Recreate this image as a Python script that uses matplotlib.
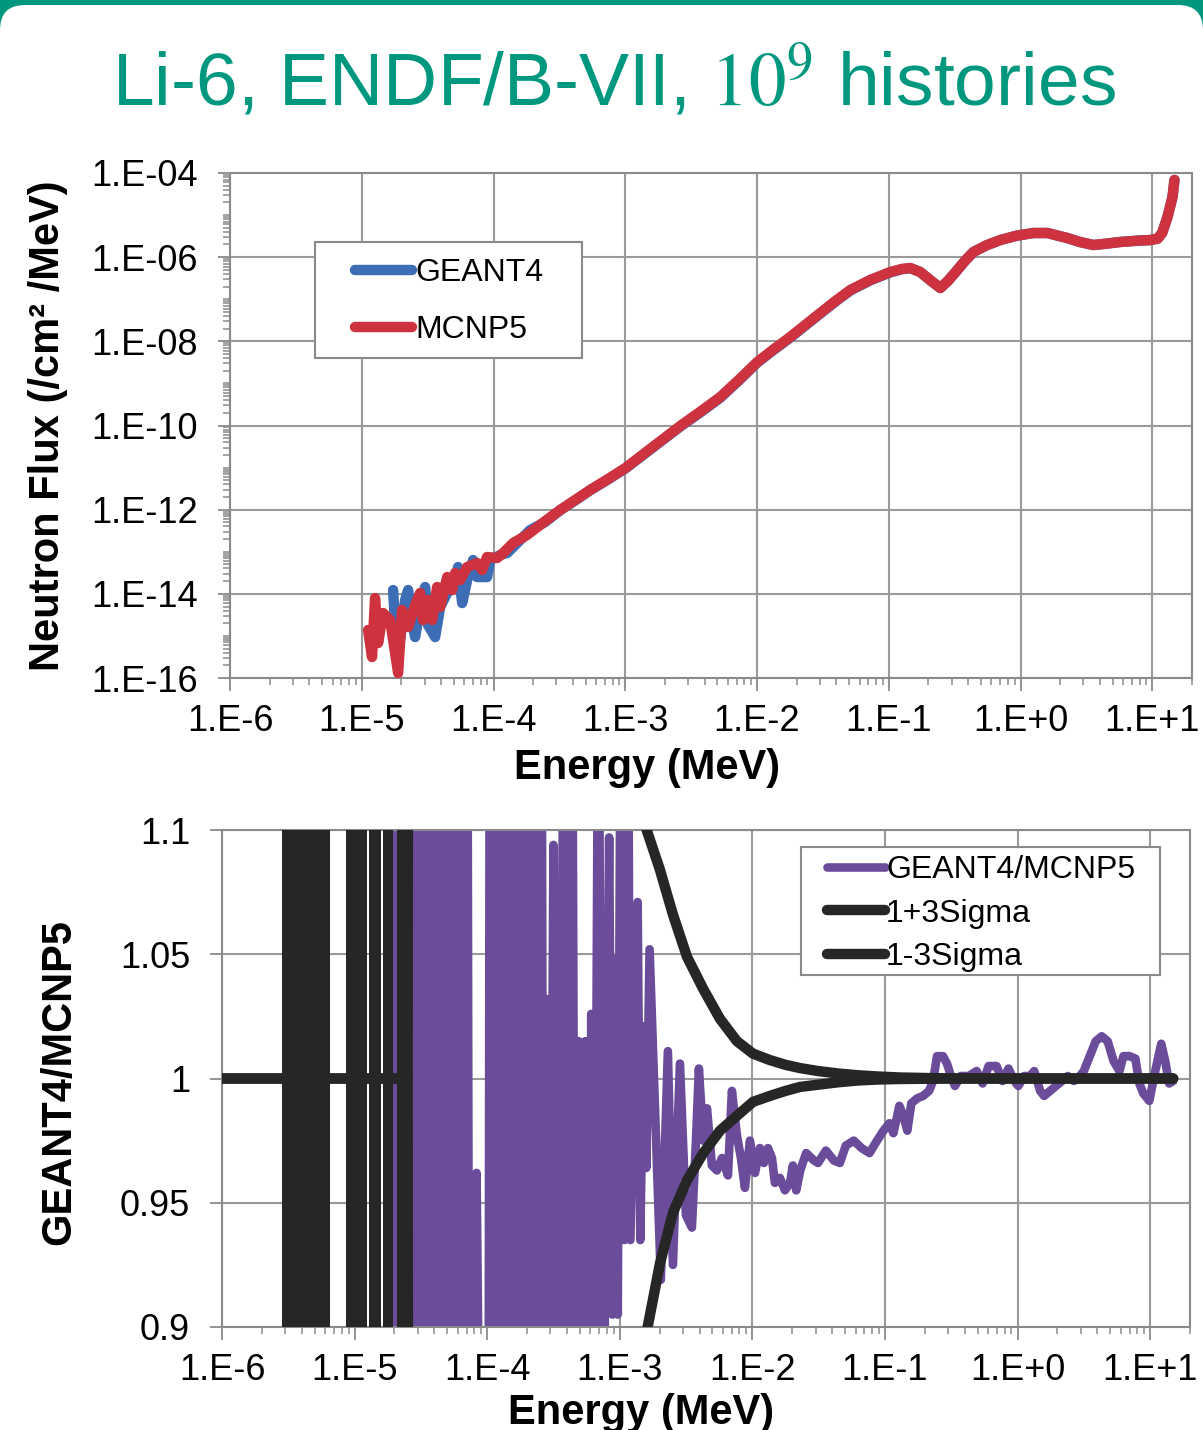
import matplotlib.pyplot as plt
import numpy as np
from matplotlib.patches import Rectangle, FancyBboxPatch
from matplotlib.ticker import FixedLocator, LogLocator, FuncFormatter, NullFormatter

plt.rcParams['font.family'] = ['Liberation Sans', 'DejaVu Sans']
plt.rcParams['mathtext.fontset'] = 'stix'

# ---------------- data ----------------
# neutron flux spectrum: (log10 E [MeV], log10 flux [/cm2/MeV])
mcnp_flux = [
    (-4.952, -14.860), (-4.922, -15.502), (-4.899, -14.100), (-4.876, -15.169),
    (-4.838, -14.456), (-4.785, -14.623), (-4.724, -15.882), (-4.694, -14.385),
    (-4.648, -14.789), (-4.595, -14.266), (-4.557, -13.981), (-4.535, -14.623),
    (-4.497, -14.147), (-4.466, -14.623), (-4.428, -13.838), (-4.405, -14.314),
    (-4.352, -13.601), (-4.314, -13.910), (-4.292, -13.506), (-4.254, -13.672),
    (-4.200, -13.363), (-4.125, -13.268), (-4.087, -13.434), (-4.049, -13.125),
    (-3.973, -13.149), (-3.927, -13.030), (-3.851, -12.793), (-3.745, -12.600),
    (-3.620, -12.300), (-3.494, -12.008), (-3.380, -11.770), (-3.267, -11.533),
    (-3.130, -11.270), (-2.999, -11.010), (-2.800, -10.530), (-2.583, -10.012),
    (-2.430, -9.670), (-2.279, -9.323), (-2.140, -8.920), (-1.998, -8.491),
    (-1.870, -8.180), (-1.748, -7.897), (-1.630, -7.600), (-1.520, -7.327),
    (-1.400, -7.030), (-1.292, -6.780), (-1.140, -6.540), (-0.989, -6.353),
    (-0.900, -6.280), (-0.837, -6.258), (-0.761, -6.353), (-0.680, -6.560),
    (-0.609, -6.733), (-0.550, -6.560), (-0.480, -6.305), (-0.420, -6.080),
    (-0.358, -5.877), (-0.260, -5.720), (-0.153, -5.592), (-0.030, -5.490),
    (0.097, -5.426), (0.203, -5.426), (0.355, -5.545), (0.450, -5.640),
    (0.553, -5.711), (0.650, -5.680), (0.758, -5.640), (0.880, -5.610),
    (0.986, -5.592), (1.040, -5.560), (1.075, -5.420), (1.115, -5.046),
    (1.153, -4.570), (1.168, -4.166),
]
geant_flux = [
    (-4.762, -13.910), (-4.747, -14.741), (-4.709, -15.098), (-4.671, -14.147),
    (-4.648, -13.910), (-4.618, -14.623), (-4.595, -15.027), (-4.557, -14.314),
    (-4.519, -13.838), (-4.497, -14.741), (-4.443, -15.027), (-4.405, -14.314),
    (-4.352, -13.981), (-4.292, -13.791), (-4.269, -13.363), (-4.238, -14.219),
    (-4.200, -13.672), (-4.155, -13.197), (-4.125, -13.601), (-4.049, -13.601),
    (-4.026, -13.197), (-3.950, -13.078), (-3.897, -13.030), (-3.798, -12.721),
    (-3.722, -12.484), (-3.608, -12.294), (-3.494, -12.012), (-3.380, -11.780),
    (-3.267, -11.540), (-3.130, -11.280), (-2.999, -11.020), (-2.800, -10.545),
    (-2.583, -10.025), (-2.430, -9.688), (-2.279, -9.340), (-2.140, -8.937),
    (-1.998, -8.505), (-1.870, -8.195), (-1.748, -7.912), (-1.630, -7.615),
    (-1.520, -7.340), (-1.400, -7.043), (-1.292, -6.792), (-1.140, -6.550),
    (-0.989, -6.362), (-0.900, -6.286), (-0.837, -6.262), (-0.761, -6.356),
    (-0.680, -6.562), (-0.609, -6.734), (-0.550, -6.560), (-0.480, -6.305),
    (-0.420, -6.080), (-0.358, -5.877), (-0.260, -5.720), (-0.153, -5.592),
    (-0.030, -5.490), (0.097, -5.426), (0.203, -5.425), (0.355, -5.545),
    (0.450, -5.640), (0.553, -5.711), (0.650, -5.680), (0.758, -5.637),
    (0.880, -5.610), (0.986, -5.593), (1.040, -5.560), (1.075, -5.420),
    (1.115, -5.046), (1.153, -4.570), (1.168, -4.166),
]

# GEANT4/MCNP5 ratio: (log10 E [MeV], ratio)
ratio_noisy = [
    (-6.00, 1.0), (-4.72, 1.0),
    (-4.70, 1.2), (-4.675, 0.8), (-4.65, 1.2), (-4.625, 0.8), (-4.60, 1.2),
    (-4.575, 0.8), (-4.55, 1.2), (-4.525, 0.8), (-4.50, 1.2), (-4.475, 0.8),
    (-4.45, 1.2), (-4.425, 0.8), (-4.40, 1.2), (-4.375, 0.8), (-4.35, 1.2),
    (-4.325, 0.8), (-4.30, 1.2), (-4.275, 0.8), (-4.25, 1.2), (-4.225, 0.8),
    (-4.20, 1.2), (-4.175, 0.8), (-4.15, 1.2), (-4.135, 0.8),
    (-4.08, 0.962), (-4.05, 0.8), (-3.99, 0.8),
    (-3.98, 1.2), (-3.955, 0.8), (-3.93, 1.2), (-3.905, 0.8), (-3.88, 1.2),
    (-3.855, 0.8), (-3.83, 1.2), (-3.805, 0.8), (-3.78, 1.2), (-3.755, 0.8),
    (-3.73, 1.2), (-3.705, 0.8), (-3.68, 1.2), (-3.655, 0.8), (-3.63, 1.2),
    (-3.605, 0.8), (-3.59, 1.2), (-3.575, 0.8),
    (-3.555, 1.032), (-3.53, 0.8), (-3.50, 1.094), (-3.475, 0.8),
    (-3.415, 1.2), (-3.39, 0.8), (-3.36, 1.2), (-3.335, 0.8),
    (-3.31, 1.015), (-3.285, 0.8), (-3.26, 1.015), (-3.24, 0.8),
    (-3.215, 1.026), (-3.195, 0.8), (-3.16, 1.2), (-3.13, 0.8),
    (-3.08, 1.097), (-3.055, 0.905), (-3.035, 1.048), (-3.015, 0.905),
    (-2.99, 1.2), (-2.965, 0.935), (-2.94, 1.2), (-2.92, 0.935),
    (-2.865, 1.071), (-2.845, 0.935), (-2.82, 1.021), (-2.80, 0.964),
    (-2.775, 1.052), (-2.69, 0.919),
]
ratio_smooth = [
    (-2.637, 1.011), (-2.599, 0.925), (-2.546, 1.006), (-2.501, 0.945),
    (-2.456, 0.940), (-2.425, 0.975), (-2.403, 1.004), (-2.370, 0.975),
    (-2.342, 0.988), (-2.305, 0.965), (-2.267, 0.963), (-2.229, 0.968),
    (-2.184, 0.961), (-2.154, 0.995), (-2.116, 0.977), (-2.086, 0.968),
    (-2.056, 0.956), (-2.018, 0.975), (-1.980, 0.962), (-1.943, 0.972),
    (-1.913, 0.966), (-1.882, 0.972), (-1.852, 0.968), (-1.830, 0.958),
    (-1.792, 0.960), (-1.754, 0.955), (-1.716, 0.958), (-1.694, 0.965),
    (-1.669, 0.955), (-1.639, 0.963), (-1.594, 0.970), (-1.535, 0.967),
    (-1.505, 0.966), (-1.445, 0.971), (-1.385, 0.967), (-1.340, 0.966),
    (-1.295, 0.973), (-1.235, 0.975), (-1.176, 0.972), (-1.116, 0.970),
    (-1.071, 0.974), (-1.011, 0.979), (-0.966, 0.982), (-0.936, 0.978),
    (-0.891, 0.989), (-0.861, 0.985), (-0.831, 0.979), (-0.801, 0.990),
    (-0.757, 0.992), (-0.712, 0.993), (-0.667, 0.995), (-0.637, 0.999),
    (-0.607, 1.009), (-0.562, 1.009), (-0.532, 1.006), (-0.502, 1.001),
    (-0.472, 0.997), (-0.427, 1.001), (-0.368, 1.001), (-0.308, 1.003),
    (-0.263, 0.998), (-0.218, 1.005), (-0.158, 1.005), (-0.113, 0.999),
    (-0.068, 1.004), (-0.024, 0.999), (0.006, 0.997), (0.051, 1.001),
    (0.096, 1.001), (0.126, 1.003), (0.171, 0.995), (0.201, 0.993),
    (0.246, 0.995), (0.291, 0.997), (0.336, 0.999), (0.380, 1.001),
    (0.425, 0.999), (0.470, 1.001), (0.500, 1.003), (0.545, 1.009),
    (0.590, 1.015), (0.635, 1.017), (0.680, 1.015), (0.725, 1.007),
    (0.769, 1.003), (0.799, 1.009), (0.844, 1.009), (0.889, 1.008),
    (0.919, 0.998), (0.949, 0.994), (0.994, 0.991), (1.039, 1.003),
    (1.084, 1.014), (1.114, 1.007), (1.144, 0.998), (1.174, 0.999),
]

# 1 +/- 3 sigma band (log10 E, upper, lower)
sigma_logE = [-6.0, -4.60, -4.59, -2.90, -2.797, -2.697, -2.599, -2.493, -2.370,
              -2.244, -2.116, -1.995, -1.867, -1.750, -1.641, -1.505, -1.350,
              -1.204, -1.050, -0.887, -0.70, -0.51, 1.174]
sigma_hi = [1.0, 1.0, 1.5, 1.2, 1.100, 1.084, 1.066, 1.049, 1.036,
            1.024, 1.015, 1.010, 1.0074, 1.0055, 1.0042, 1.0030, 1.0020,
            1.0013, 1.0008, 1.0004, 1.0002, 1.0, 1.0]
sigma_lo = [1.0, 1.0, 0.5, 0.8, 0.898, 0.9255, 0.946, 0.959, 0.970,
            0.979, 0.985, 0.9906, 0.993, 0.995, 0.9966, 0.9975, 0.9985,
            0.9992, 0.9996, 0.9998, 0.9999, 1.0, 1.0]
# low-count bins where the 3 sigma band flips over the whole range (log10 E)
sigma_blowup = [(-5.548, -5.186), (-5.065, -4.906), (-4.891, -4.801),
                (-4.786, -4.710), (-4.680, -4.580)]

dec_x = np.arange(-6, 2)
dec_y = np.arange(-16, -3, 2)

# ---------------- style ----------------
teal = '#00977F'
c_red = '#CE323E'
c_blue = '#3C6DB5'
c_purple = '#6A4C9B'
c_black = '#262626'
c_grid = '#9A9A9A'
c_axis = '#8A8A8A'

fig = plt.figure(figsize=(12.03, 14.30), dpi=100)

# slide frame
fig.add_artist(Rectangle((0, 14.30 - 0.4), 12.03, 0.4, transform=fig.dpi_scale_trans,
                         facecolor=teal, edgecolor='none', zorder=0))
fig.add_artist(FancyBboxPatch((0.0, -1.0), 12.03, 14.30 - 0.05 + 1.0,
                              boxstyle='round,pad=0,rounding_size=0.25',
                              transform=fig.dpi_scale_trans,
                              facecolor='white', edgecolor='none', zorder=0))

fig.text(0.510, 1 - 106 / 1430, r'Li-6, ENDF/B-VII, $10^9$ histories',
         color=teal, fontsize=54, ha='center', va='baseline')


def xfmt(v, pos):
    e = int(round(np.log10(v)))
    return f'1.E{e:+d}'


def yfmt(v, pos):
    e = int(round(np.log10(v)))
    return f'1.E-{abs(e):02d}'


def style_axes(ax):
    ax.set_axisbelow(True)
    for s in ax.spines.values():
        s.set_color(c_axis)
        s.set_linewidth(1.5)
    ax.tick_params(which='major', direction='out', length=9, width=1.3,
                   color=c_axis, labelsize=26, pad=10)
    ax.tick_params(which='minor', direction='out', length=5, width=1.1,
                   color=c_axis)
    ax.tick_params(axis='y', pad=14)
    ax.set_xscale('log')
    ax.set_xlim(1e-6, 20)
    ax.xaxis.set_major_locator(FixedLocator(10.0 ** dec_x))
    ax.xaxis.set_minor_locator(LogLocator(base=10, subs=np.arange(2, 10), numticks=100))
    ax.xaxis.set_major_formatter(FuncFormatter(xfmt))
    ax.xaxis.set_minor_formatter(NullFormatter())
    ax.grid(True, which='major', color=c_grid, lw=1.5)


# ---------------- top: flux ----------------
ax1 = fig.add_axes([230 / 1203, 1 - 678 / 1430, 962 / 1203, 505 / 1430])
style_axes(ax1)
ax1.set_yscale('log')
ax1.set_ylim(1e-16, 1e-4)
ax1.yaxis.set_major_locator(FixedLocator(10.0 ** dec_y))
ax1.yaxis.set_minor_locator(LogLocator(base=10, subs=np.arange(1, 10), numticks=100))
ax1.yaxis.set_major_formatter(FuncFormatter(yfmt))
ax1.yaxis.set_minor_formatter(NullFormatter())

gE, gF = zip(*geant_flux)
mE, mF = zip(*mcnp_flux)
l_g, = ax1.plot(10.0 ** np.array(gE), 10.0 ** np.array(gF), color=c_blue, lw=7.5,
                solid_capstyle='round', solid_joinstyle='round', label='GEANT4', zorder=2)
l_m, = ax1.plot(10.0 ** np.array(mE), 10.0 ** np.array(mF), color=c_red, lw=7.5,
                solid_capstyle='round', solid_joinstyle='round', label='MCNP5', zorder=3)

ax1.set_xlabel('Energy (MeV)', fontsize=30, fontweight='bold')
ax1.xaxis.set_label_coords(0.4335, -0.139)
ax1.set_ylabel('Neutron Flux (/cm² /MeV)', fontsize=30, fontweight='bold')
ax1.yaxis.set_label_coords(-0.168, 0.5)

ax1.add_patch(Rectangle((0.0884, 0.6337), 0.2775, 0.2297, transform=ax1.transAxes,
                        facecolor='white', edgecolor=c_axis, lw=1.5, zorder=4))
leg1 = ax1.legend(handles=[l_g, l_m], loc='upper left', bbox_to_anchor=(0.130, 0.8307),
                  frameon=False, fontsize=23, borderpad=0, borderaxespad=0,
                  handlelength=1.78, handletextpad=0.1, labelspacing=0.84)
leg1.set_zorder(5)

# ---------------- bottom: ratio ----------------
ax2 = fig.add_axes([222 / 1203, 1 - 1327 / 1430, 968 / 1203, 497 / 1430])
style_axes(ax2)
ax2.set_ylim(0.9, 1.1)
ax2.yaxis.set_major_locator(FixedLocator([0.9, 0.95, 1.0, 1.05, 1.1]))
ax2.yaxis.set_major_formatter(FuncFormatter(lambda v, p: f'{v:g}'))

rE, rV = zip(*(ratio_noisy + ratio_smooth))
l_r, = ax2.plot(10.0 ** np.array(rE), rV, color=c_purple, lw=6.2,
                solid_capstyle='round', solid_joinstyle='round',
                label='GEANT4/MCNP5', zorder=2)
sE = 10.0 ** np.array(sigma_logE)
l_hi, = ax2.plot(sE, sigma_hi, color=c_black, lw=7.5, solid_capstyle='round',
                 solid_joinstyle='round', label='1+3Sigma', zorder=3)
l_lo, = ax2.plot(sE, sigma_lo, color=c_black, lw=7.5, solid_capstyle='round',
                 solid_joinstyle='round', label='1-3Sigma', zorder=3)
for lo, hi in sigma_blowup:
    ax2.axvspan(10.0 ** lo, 10.0 ** hi, color=c_black, lw=0, zorder=3)

ax2.set_xlabel('Energy (MeV)', fontsize=30, fontweight='bold')
ax2.xaxis.set_label_coords(0.433, -0.133)
ax2.set_ylabel('GEANT4/MCNP5', fontsize=30, fontweight='bold')
ax2.yaxis.set_label_coords(-0.147, 0.493)

ax2.add_patch(Rectangle((0.598, 0.7082), 0.371, 0.2576, transform=ax2.transAxes,
                        facecolor='white', edgecolor=c_axis, lw=1.5, zorder=4))
leg2 = ax2.legend(handles=[l_r, l_hi, l_lo], loc='upper left', bbox_to_anchor=(0.625, 0.9487),
                  frameon=False, fontsize=23, borderpad=0, borderaxespad=0,
                  handlelength=1.8, handletextpad=0.05, labelspacing=0.41)
leg2.set_zorder(5)

fig.savefig('out.png', dpi=100)
